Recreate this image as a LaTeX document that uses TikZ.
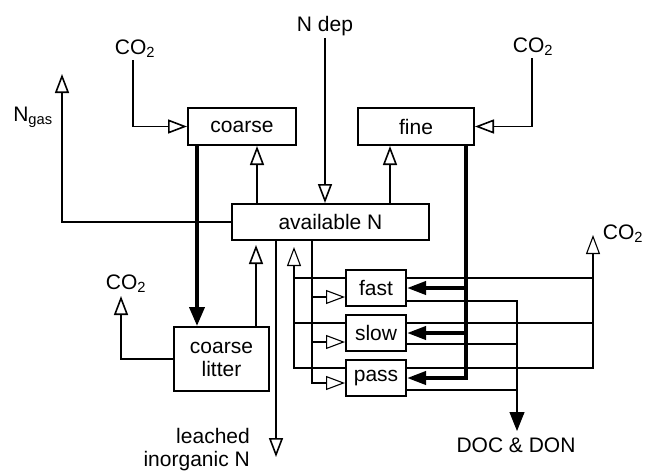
\documentclass[tikz,border=0pt]{standalone}
\usepackage{fontspec}
\setmainfont{Liberation Sans}
\usetikzlibrary{arrows.meta,calc}
\begin{document}
\begin{tikzpicture}[x=1pt,y=-1pt,
  font=\fontsize{21}{23}\selectfont,
  box/.style={draw, line width=2pt, inner sep=0pt},
  lbl/.style={inner sep=2pt},
  thinln/.style={line width=1.6pt},
  thinnerln/.style={line width=1.1pt},
  thickln/.style={line width=3.8pt},
  oarr/.style={-{Triangle[open,length=19pt,width=14pt]}},
  farr/.style={-{Triangle[length=19pt,width=15pt]}},
  farrs/.style={-{Triangle[length=19pt,width=13pt]}}]
\useasboundingbox (0,0) rectangle (652,471);

% boxes
\node[box, minimum width=108pt, minimum height=37pt] (coarse) at (242,126.5) {coarse};
\node[box, minimum width=116pt, minimum height=37pt] (fine) at (416,126.5) {fine};
\node[box, minimum width=197pt, minimum height=36pt] (avail) at (330.5,222) {available N};
\node[box, minimum width=95pt, minimum height=64pt, align=center] (litter) at (221.5,359) {coarse\\litter};
\node[box, minimum width=60pt, minimum height=36pt] (fast) at (376,288) {fast};
\node[box, minimum width=60pt, minimum height=36pt] (slow) at (376,333) {slow};
\node[box, minimum width=60pt, minimum height=36pt] (pass) at (376,378) {pass};

% labels
\node[lbl] (ndep) at (325,26) {N dep};
\node[lbl] (co2a) at (135,49) {CO\textsubscript{2}};
\node[lbl] (co2b) at (533,47) {CO\textsubscript{2}};
\node[lbl] (ngas) at (33,117) {N\textsubscript{gas}};
\node[lbl] (co2c) at (126,284) {CO\textsubscript{2}};
\node[lbl] (co2d) at (623,234) {CO\textsubscript{2}};
\node[align=right, anchor=north east, inner sep=0pt] (leach) at (250,428) {leached\\inorganic N};
\node[lbl] (doc) at (516,445) {DOC \& DON};

% routing coordinates
\coordinate (xac) at (257,0);
\coordinate (xaf) at (390,0);
\coordinate (xcl) at (197,0);
\coordinate (xla) at (256,0);
\coordinate (xle) at (276,0);
\coordinate (xin) at (312,0);
\coordinate (xout) at (294,0);
\coordinate (xf) at (466,0);
\coordinate (xco) at (593,0);
\coordinate (xdoc) at (517,0);
\coordinate (xc1) at (133,0);
\coordinate (xc2) at (532,0);
\coordinate (ngasend) at (62,74);
\coordinate (co2ltip) at (121,296);
\coordinate (leachend) at (276,457);
\coordinate (co2rtip) at (593,235);
\coordinate (docend) at (517,431);

\coordinate (fin) at ([yshift=-9pt]fast.west);
\coordinate (sin) at ([yshift=-9pt]slow.west);
\coordinate (pin) at ([yshift=-5pt]pass.west);
\coordinate (fout) at ([yshift=10pt]fast.west);
\coordinate (sout) at ([yshift=10pt]slow.west);
\coordinate (pout) at ([yshift=10pt]pass.west);
\coordinate (fco) at ([yshift=10pt]fast.east);
\coordinate (sco) at ([yshift=10pt]slow.east);
\coordinate (pco) at ([yshift=10pt]pass.east);
\coordinate (fdoc) at ([yshift=-13pt]fast.east);
\coordinate (sdoc) at ([yshift=-11pt]slow.east);
\coordinate (pdoc) at ([yshift=-12pt]pass.east);

% upper connectors
\draw[thinln,oarr] (co2a.south -| xc1) |- (coarse.west);
\draw[thinln,oarr] (co2b.south -| xc2) |- (fine.east);
\draw[thinln,oarr] (avail.west) -| (ngasend);
\draw[thinln,oarr] (ndep.south) -- (ndep.south |- avail.north);
\draw[thinln,oarr] (avail.north -| xac) -- (coarse.south -| xac);
\draw[thinln,oarr] (avail.north -| xaf) -- (fine.south -| xaf);
\draw[thickln,farr] (coarse.south -| xcl) -- (litter.north -| xcl);
\draw[thinln,oarr,shorten >=4pt] (litter.north -| xla) -- (avail.south -| xla);
\draw[thinln,oarr] (litter.west) -| (co2ltip);
\draw[thinln,oarr] (avail.south -| xle) -- (leachend);

% soil pools
\draw[thinnerln,oarr] (avail.south -| xin) |- (pin);
\draw[thinnerln,oarr] (fin -| xin) -- (fin);
\draw[thinnerln,oarr] (sin -| xin) -- (sin);
\draw[thinnerln,oarr,shorten >=6pt] (pout) -| (avail.south -| xout);
\draw[thinnerln] (fout) -- (fout -| xout);
\draw[thinnerln] (sout) -- (sout -| xout);
\draw[thinnerln,oarr] (pco) -| (co2rtip);
\draw[thinnerln] (fco) -- (fco -| xco);
\draw[thinnerln] (sco) -- (sco -| xco);
\draw[thinnerln,farr] (fdoc) -| (docend);
\draw[thinnerln] (sdoc) -- (sdoc -| xdoc);
\draw[thinnerln] (pdoc) -- (pdoc -| xdoc);
\draw[thickln,farrs] (fine.south -| xf) |- (pass.east);
\draw[thickln,farrs] (fast.east -| xf) -- (fast.east);
\draw[thickln,farrs] (slow.east -| xf) -- (slow.east);
\end{tikzpicture}
\end{document}
